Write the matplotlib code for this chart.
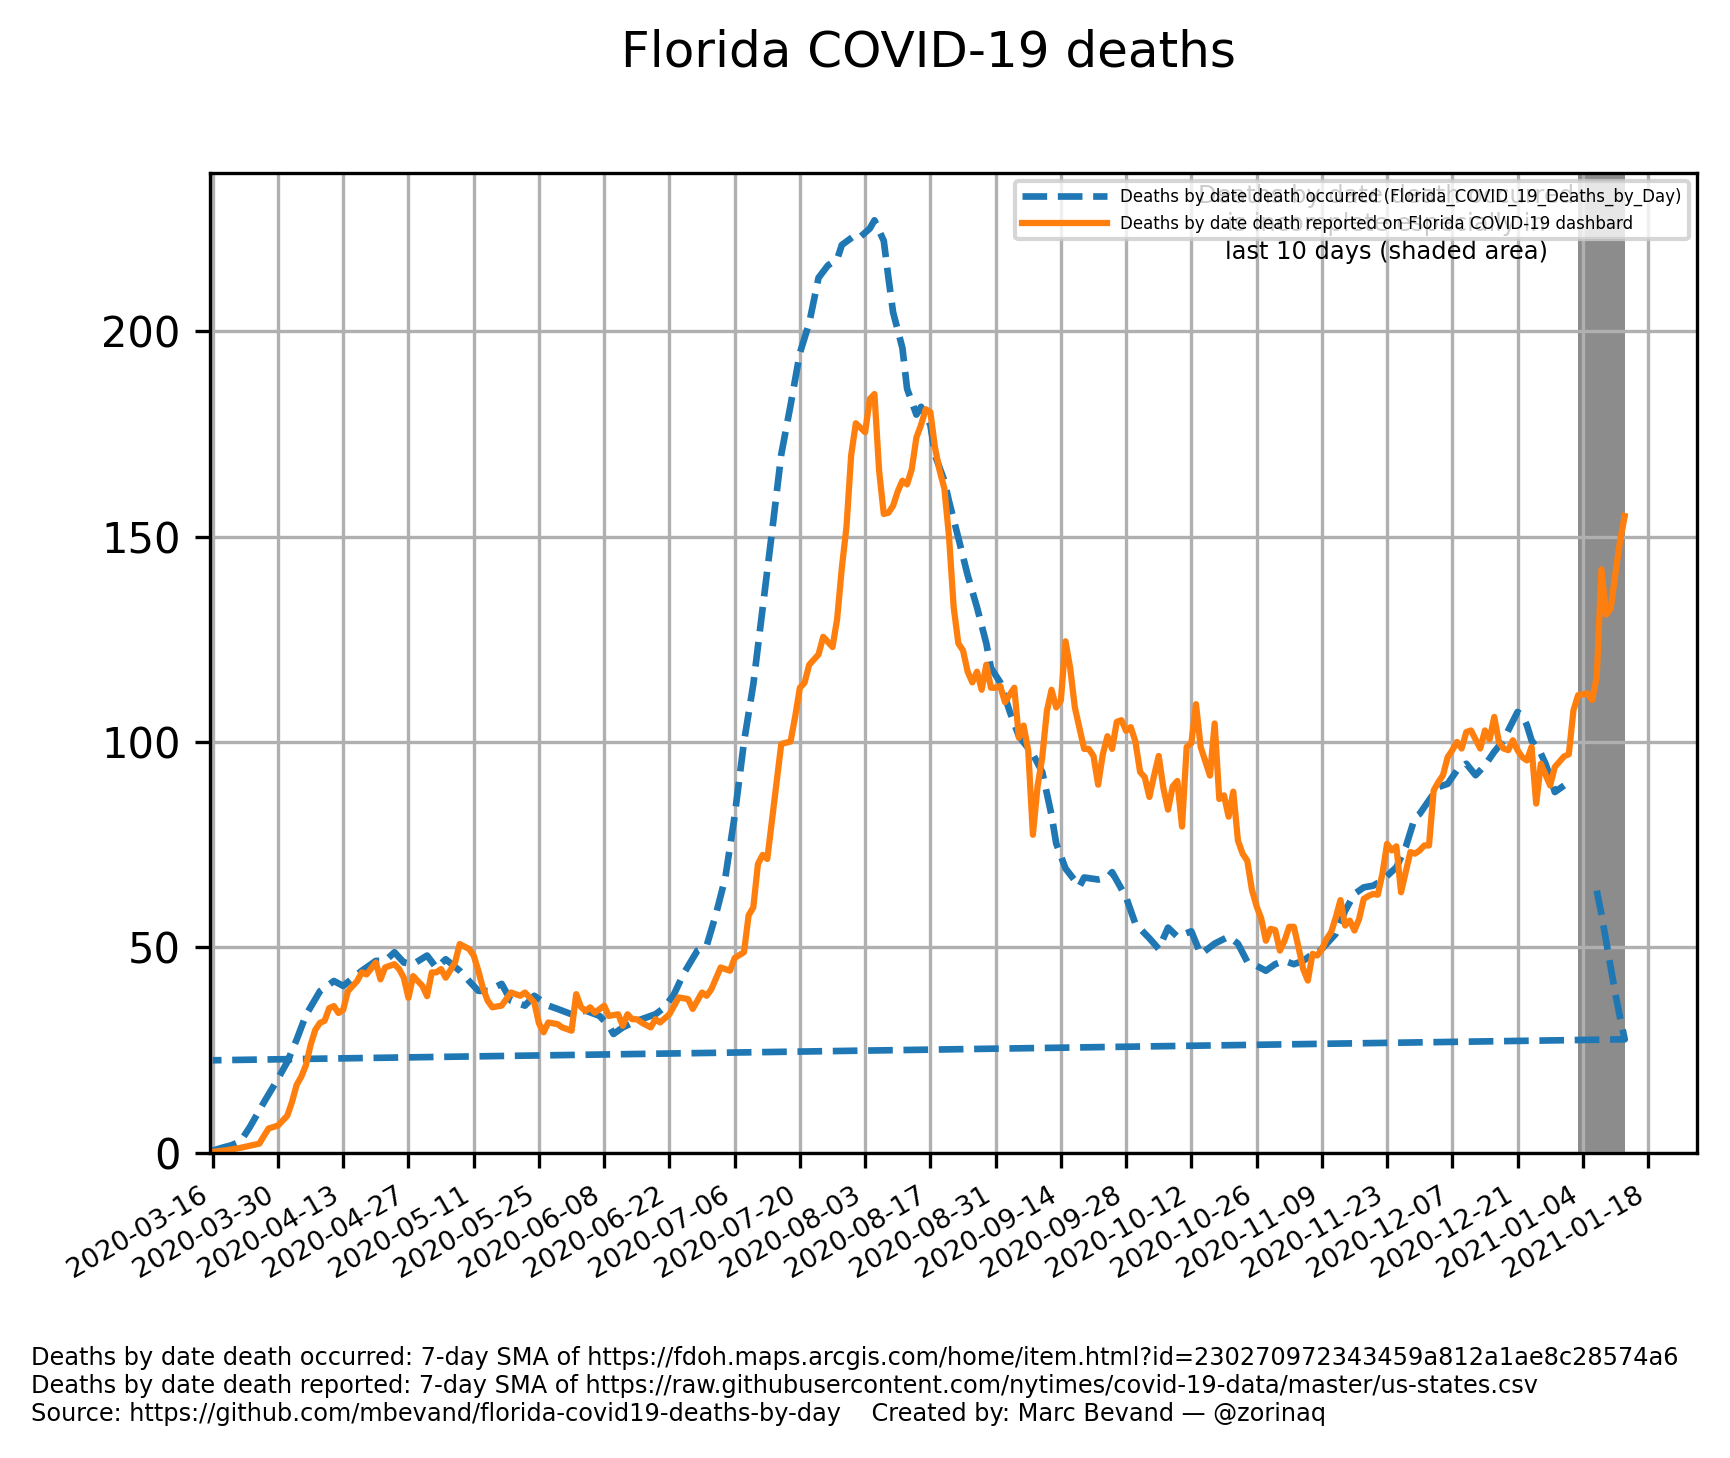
import numpy as np
import matplotlib
matplotlib.use("Agg")
import matplotlib.pyplot as plt
import matplotlib.dates as mdates

START = "2020-03-16"

# Deaths by date death occurred (7-day SMA), day offsets from START
blue_day = [0, 2, 4, 6, 8, 11, 14, 16, 18, 20, 23, 26, 28, 32, 35, 37, 39, 41, 43, 46,
            48, 50, 53, 55, 57, 59, 62, 64, 67, 69, 72, 74, 77, 80, 83, 85, 86, 88, 91, 93,
            95, 97, 99, 101, 104, 106, 108, 110, 112, 114, 116, 118, 120, 122, 124, 126, 128, 130, 132, 134,
            135, 138, 139, 141, 142, 144, 145, 146, 148, 149, 151, 152, 154, 155, 157, 158, 160, 162, 164, 166,
            167, 169, 171, 173, 176, 178, 180, 181, 183, 186, 187, 190, 192, 193, 196, 198, 201, 203, 205, 207,
            210, 212, 215, 218, 220, 222, 224, 226, 228, 230, 232, 234, 236, 237, 239, 241, 243, 245, 247, 249,
            251, 254, 256, 258, 259, 261, 263, 265, 267, 269, 271, 273, 275, 277, 278, 280, 281, 282, 283, 285,
            286, 287, 288, 290, 293, 297, 298, 299, 300, 301, 302, 303, 0]
blue_val = [0.5, 1.2, 1.8, 2.8, 6.3, 12.3, 18.0, 22.1, 27.5, 33.5, 39.3, 41.8, 40.6, 44.3, 46.7, 46.7, 48.8, 46.3, 45.9, 48.0,
            45.0, 47.1, 44.3, 41.8, 39.4, 39.4, 41.1, 37.0, 35.8, 38.2, 35.8, 35.0, 33.7, 34.6, 33.3, 30.9, 28.9, 30.5, 32.1, 32.9,
            33.7, 35.4, 38.6, 43.5, 49.2, 50.4, 58.1, 67.0, 82.0, 100.0, 114.0, 132.5, 151.0, 170.0, 182.0, 194.7, 202.0, 213.0, 216.0, 217.5,
            221.0, 223.5, 223.0, 225.0, 227.0, 222.0, 213.0, 204.6, 195.9, 186.0, 179.7, 181.6, 177.2, 169.8, 163.6, 158.6, 149.7, 140.6, 132.8, 124.0,
            118.0, 114.5, 107.5, 101.4, 97.0, 92.7, 82.2, 75.3, 69.2, 64.8, 67.0, 66.5, 67.0, 68.3, 62.2, 55.7, 52.2, 49.6, 54.8, 52.6,
            53.9, 48.3, 50.9, 52.6, 50.9, 46.5, 45.5, 44.3, 45.9, 46.7, 45.9, 46.7, 48.4, 48.4, 50.8, 53.3, 58.9, 63.0, 64.6, 65.0,
            66.3, 69.5, 74.4, 81.7, 82.5, 85.8, 89.0, 89.8, 93.1, 94.7, 91.9, 94.3, 97.6, 100.4, 102.8, 107.3, 106.5, 104.1, 100.4, 97.2,
            94.7, 91.5, 87.8, 89.4, np.nan, 63.8, 58.1, 51.6, 45.1, 38.6, 32.9, 27.6, 22.5]

# Deaths by date death reported (7-day SMA), day offsets from START
orange_day = [0, 3, 6, 8, 10, 11, 12, 14, 16, 17, 18, 19, 20, 21, 22, 23, 24, 25, 26, 27,
              28, 29, 31, 32, 33, 35, 36, 37, 39, 40, 41, 42, 43, 45, 46, 47, 48, 49, 50, 52,
              53, 55, 56, 57, 58, 59, 60, 62, 64, 66, 67, 69, 70, 71, 72, 74, 75, 77, 78, 79,
              80, 81, 82, 84, 85, 87, 88, 89, 90, 91, 92, 94, 95, 96, 98, 100, 102, 103, 105, 106,
              107, 109, 111, 112, 114, 115, 116, 117, 118, 119, 121, 122, 124, 125, 126, 127, 128, 130, 131, 133,
              134, 135, 136, 137, 138, 139, 140, 141, 142, 143, 144, 145, 146, 147, 148, 149, 150, 151, 152, 153,
              154, 155, 156, 157, 158, 159, 160, 161, 162, 163, 164, 165, 166, 167, 168, 169, 170, 172, 173, 174,
              175, 176, 177, 178, 179, 180, 181, 182, 183, 184, 185, 187, 188, 189, 190, 191, 192, 193, 194, 195,
              196, 197, 198, 199, 200, 201, 202, 203, 204, 205, 206, 207, 208, 209, 210, 211, 212, 214, 215, 216,
              217, 218, 219, 220, 221, 222, 223, 224, 225, 226, 227, 228, 229, 230, 231, 232, 233, 234, 235, 236,
              237, 238, 239, 240, 241, 242, 243, 244, 245, 246, 247, 248, 249, 250, 251, 252, 253, 254, 255, 256,
              257, 258, 259, 260, 261, 262, 263, 264, 265, 266, 267, 268, 269, 270, 272, 273, 274, 275, 276, 277,
              278, 279, 280, 281, 282, 283, 284, 285, 287, 288, 290, 291, 292, 293, 295, 296, 297, 298, 299, 300,
              301, 302, 303]
orange_val = [0.2, 0.6, 1.2, 1.7, 2.2, 4.1, 5.9, 6.6, 9.0, 12.3, 16.5, 18.5, 21.3, 26.2, 29.9, 31.6, 32.1, 35.2, 35.7, 34.0,
              34.8, 39.3, 41.8, 43.9, 43.4, 46.3, 42.2, 45.1, 45.9, 44.7, 42.6, 37.7, 43.0, 40.6, 38.1, 43.9, 43.9, 44.7, 42.6, 46.3,
              50.8, 49.6, 48.0, 44.3, 40.0, 37.0, 35.4, 35.8, 39.0, 38.2, 39.0, 36.6, 31.5, 29.3, 31.7, 31.3, 30.5, 29.7, 38.6, 35.5,
              34.5, 35.4, 34.1, 35.8, 33.3, 33.7, 30.9, 33.7, 32.5, 32.5, 31.7, 30.5, 32.5, 31.7, 33.7, 37.8, 37.4, 35.0, 39.0, 38.2,
              39.8, 45.1, 44.3, 47.4, 48.8, 57.8, 59.7, 70.3, 72.5, 71.5, 90.2, 99.5, 100.1, 106.3, 113.2, 114.4, 118.8, 121.3, 125.6, 123.1,
              130.0, 142.4, 152.4, 169.8, 177.6, 176.5, 175.4, 183.5, 184.7, 166.0, 155.5, 155.8, 157.5, 161.0, 163.6, 162.7, 166.4, 174.1, 177.2, 181.0,
              180.3, 171.6, 166.0, 161.7, 150.0, 132.8, 124.0, 122.3, 117.1, 114.5, 117.1, 112.7, 118.8, 113.2, 113.2, 113.6, 109.7, 113.2, 101.0, 104.0,
              97.9, 77.4, 89.2, 96.2, 107.5, 112.7, 108.4, 110.1, 124.5, 118.0, 108.4, 98.3, 98.3, 96.6, 89.6, 97.0, 101.4, 98.3, 104.9, 105.3,
              102.7, 103.6, 100.1, 92.7, 91.4, 86.6, 91.8, 96.6, 88.8, 83.5, 89.2, 90.5, 79.4, 98.8, 99.7, 109.2, 98.8, 91.8, 104.5, 86.1,
              87.0, 81.8, 87.9, 76.0, 72.8, 71.1, 64.0, 60.0, 57.0, 51.6, 54.5, 54.2, 49.2, 51.6, 55.0, 55.0, 50.0, 44.7, 41.9, 48.4,
              48.0, 49.5, 52.0, 53.7, 57.3, 61.5, 55.3, 56.5, 54.1, 56.9, 61.8, 62.5, 63.0, 62.8, 67.9, 75.2, 73.6, 74.6, 63.4, 68.3,
              73.2, 72.8, 73.6, 74.8, 74.8, 88.2, 90.2, 91.9, 96.3, 98.0, 100.0, 98.4, 102.4, 102.8, 98.4, 102.8, 100.6, 106.1, 100.0, 98.4,
              98.0, 100.4, 98.0, 96.3, 95.5, 98.8, 85.0, 94.7, 89.4, 93.9, 96.5, 97.0, 107.7, 111.4, 111.8, 110.2, 115.9, 142.0, 131.0, 132.5,
              141.0, 149.0, 155.0]

# x ticks every 14 days
tick_days = list(range(0, 309, 14))
shade_days = [293, 303]

blue_label = "Deaths by date death occurred (Florida_COVID_19_Deaths_by_Day)"
orange_label = "Deaths by date death reported on Florida COVID-19 dashbard"
title = "Florida COVID-19 deaths"
note = "Deaths by date death occurred\nis incomplete especially in\nlast 10 days (shaded area)"
footer = ("Deaths by date death occurred: 7-day SMA of https://fdoh.maps.arcgis.com/home/item.html?id=230270972343459a812a1ae8c28574a6\n"
          "Deaths by date death reported: 7-day SMA of https://raw.githubusercontent.com/nytimes/covid-19-data/master/us-states.csv\n"
          "Source: https://github.com/mbevand/florida-covid19-deaths-by-day    Created by: Marc Bevand \u2014 @zorinaq")

start = np.datetime64(START)


def to_dates(days):
    return start + np.array(days).astype("timedelta64[D]")


fig = plt.figure(figsize=(1730 / 300, 1458 / 300), dpi=300)
ax = fig.add_axes([0.1214, 0.2094, 0.8595, 0.6719])

ax.axvspan(to_dates([shade_days[0]])[0], to_dates([shade_days[1]])[0], color="#8c8c8c", lw=0)
ax.plot(to_dates(blue_day), blue_val, "--", color="#1f77b4", lw=1.6, label=blue_label)
ax.plot(to_dates(orange_day), orange_val, "-", color="#ff7f0e", lw=1.5, label=orange_label)

x0 = mdates.date2num(start)
ax.set_xlim(x0 - 0.58, x0 + 318.5)
ax.set_ylim(0, 238.5)
ax.set_xticks(to_dates(tick_days))
ax.xaxis.set_major_formatter(mdates.DateFormatter("%Y-%m-%d"))
plt.setp(ax.get_xticklabels(), rotation=30, ha="right", fontsize=6.5)
ax.set_yticks([0, 50, 100, 150, 200])
ax.grid(True)

ax.text(0.791, 0.948, note, transform=ax.transAxes, ha="center", va="center", fontsize=5.79)
ax.legend(loc="upper right", fontsize=4, handlelength=5.1)

fig.text(0.5367, 0.964, title, ha="center", va="center", fontsize=12)
fig.text(0.0179, 0.0494, footer, ha="left", va="center", fontsize=5.75, linespacing=1.2)

fig.savefig("out.png", dpi=300)
